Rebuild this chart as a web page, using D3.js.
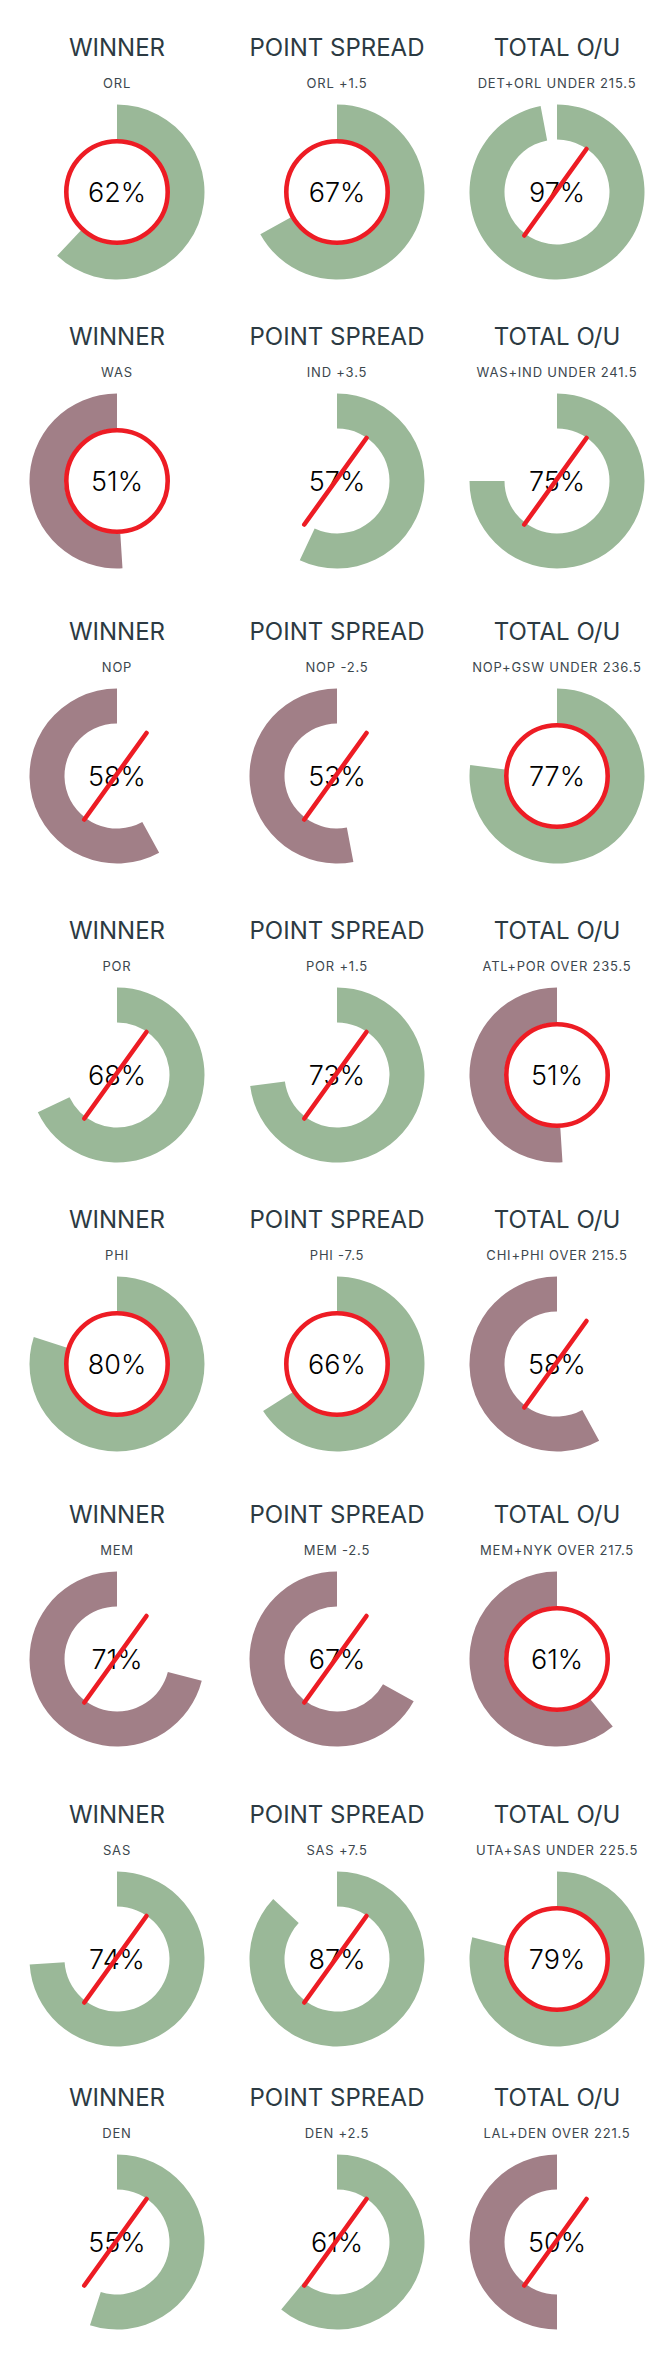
<!DOCTYPE html>
<html><head><meta charset="utf-8">
<script src="https://cdn.jsdelivr.net/npm/d3@7"></script>
<style>body{margin:0;background:#fff}svg{display:block}</style>
</head><body>
<svg id="c" width="671" height="2359"></svg>
<script>
const columns = ["WINNER", "POINT SPREAD", "TOTAL O/U"];
const picks = [
  ["ORL", "ORL +1.5", "DET+ORL UNDER 215.5"],
  ["WAS", "IND +3.5", "WAS+IND UNDER 241.5"],
  ["NOP", "NOP -2.5", "NOP+GSW UNDER 236.5"],
  ["POR", "POR +1.5", "ATL+POR OVER 235.5"],
  ["PHI", "PHI -7.5", "CHI+PHI OVER 215.5"],
  ["MEM", "MEM -2.5", "MEM+NYK OVER 217.5"],
  ["SAS", "SAS +7.5", "UTA+SAS UNDER 225.5"],
  ["DEN", "DEN +2.5", "LAL+DEN OVER 221.5"]
];
const percents = [
  [62, 67, 97], [51, 57, 75], [58, 53, 77], [68, 73, 51],
  [80, 66, 58], [71, 67, 61], [74, 87, 79], [55, 61, 50]
];
const sides = [
  ["g", "g", "g"], ["m", "g", "g"], ["m", "m", "g"], ["g", "g", "m"],
  ["g", "g", "m"], ["m", "m", "m"], ["g", "g", "g"], ["g", "g", "m"]
];
const marks = [
  ["circle", "circle", "slash"], ["circle", "slash", "slash"], ["slash", "slash", "circle"], ["slash", "slash", "circle"],
  ["circle", "circle", "slash"], ["slash", "slash", "circle"], ["slash", "slash", "circle"], ["slash", "slash", "slash"]
];

// layout
const rowCenters = [192, 481, 776, 1075, 1364, 1659, 1959, 2242];
const FONT = "Inter, 'Open Sans', sans-serif";
const colour = { g: "#9ab898", m: "#a17f87" };
const dirn = { g: 1, m: -1 };

const svg = d3.select("#c");
const x = d3.scalePoint().domain(columns).range([117, 557]);
const angle = d3.scaleLinear().domain([0, 100]).range([0, 2 * Math.PI]);
const arc = d3.arc().innerRadius(52.5).outerRadius(87.5).startAngle(0);

const cells = [];
picks.forEach((row, r) => row.forEach((pick, c) => cells.push({
  r, c, col: columns[c], pick, pct: percents[r][c], side: sides[r][c], mark: marks[r][c]
})));

const g = svg.selectAll("g.cell").data(cells).join("g")
  .attr("class", "cell")
  .attr("transform", d => `translate(${x(d.col)},${rowCenters[d.r]})`);

g.append("path")
  .attr("d", d => arc.endAngle(dirn[d.side] * angle(d.pct))())
  .attr("fill", d => colour[d.side]);

g.append("text").attr("y", -136).attr("text-anchor", "middle")
  .style("font-family", FONT).style("font-size", "24px").attr("fill", "#2c3a42")
  .text(d => d.col);
g.append("text").attr("y", -104).attr("text-anchor", "middle")
  .style("font-family", FONT).style("font-size", "13px").style("letter-spacing", "0.8px").attr("fill", "#3c474e")
  .text(d => d.pick);
g.append("text").attr("y", 10).attr("text-anchor", "middle")
  .style("font-family", FONT).style("font-size", "27px").style("font-weight", 300).attr("fill", "#000")
  .text(d => d.pct + "%");

g.filter(d => d.mark === "circle").append("circle")
  .attr("r", 50.7).attr("fill", "none").attr("stroke", "#ed1c24").attr("stroke-width", 4.6);
g.filter(d => d.mark === "slash").append("line")
  .attr("x1", -32.7).attr("y1", 43.5).attr("x2", 29.5).attr("y2", -43)
  .attr("stroke", "#ed1c24").attr("stroke-width", 4.6).attr("stroke-linecap", "round");
</script>
</body></html>
